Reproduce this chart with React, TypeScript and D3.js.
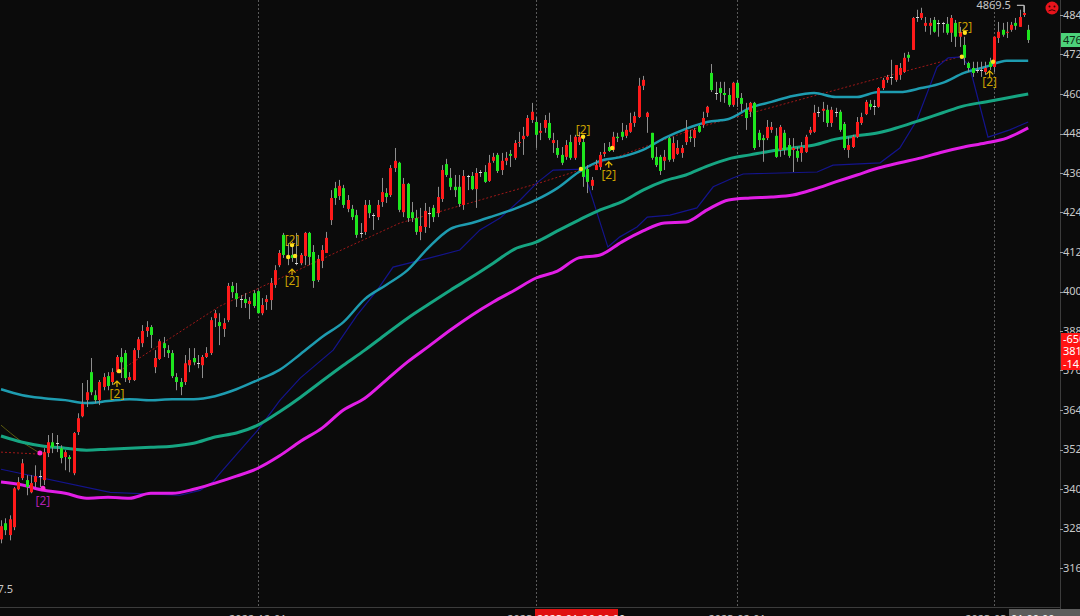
import React from 'react';
import * as d3 from 'd3';

const W = 1080;
const H = 616;
const PLOT_R = 1060;
const PLOT_B = 607;

const opens = [3247,3296,3260,3284,3399,3433,3427,3390,3421,3439,3427,3509,3542,3539,3524,3497,3497,3448,3573,3621,3670,3755,3685,3670,3710,3743,3725,3755,3801,3813,3731,3731,3822,3843,3880,3892,3770,3795,3843,3822,3813,3740,3725,3725,3776,3798,3782,3776,3801,3813,3919,3907,3886,3913,4017,3995,3977,3977,3962,3995,4001,3934,3968,3974,4020,4080,4172,4108,4111,4086,4086,4108,4178,4120,4035,4093,4117,4217,4314,4290,4314,4251,4251,4232,4178,4181,4263,4232,4226,4272,4299,4293,4375,4391,4241,4327,4241,4223,4181,4196,4238,4254,4238,4281,4387,4345,4318,4318,4263,4351,4351,4311,4363,4363,4336,4397,4415,4369,4397,4418,4406,4451,4463,4473,4521,4515,4482,4497,4512,4451,4436,4415,4409,4454,4406,4454,4454,4372,4321,4369,4378,4418,4439,4430,4470,4485,4473,4485,4512,4530,4625,4530,4482,4409,4409,4397,4466,4403,4418,4421,4454,4470,4466,4503,4506,4543,4664,4603,4618,4603,4597,4567,4634,4588,4552,4546,4573,4482,4466,4466,4491,4473,4430,4482,4445,4430,4427,4421,4424,4482,4485,4546,4549,4552,4512,4546,4546,4509,4430,4439,4470,4512,4539,4570,4564,4561,4618,4643,4652,4643,4658,4667,4719,4734,4834,4831,4807,4807,4825,4816,4816,4813,4786,4816,4774,4749,4694,4679,4673,4673,4667,4698,4682,4770,4795,4786,4795,4816,4804,4840,4795];
const highs = [3305,3311,3320,3406,3436,3491,3442,3442,3472,3457,3524,3564,3570,3564,3533,3518,3503,3573,3630,3722,3731,3798,3700,3731,3752,3755,3767,3807,3828,3822,3755,3828,3862,3898,3910,3898,3822,3855,3862,3837,3822,3752,3737,3807,3828,3828,3807,3807,3831,3922,3944,3934,3919,4026,4029,4026,3989,3995,3983,4004,4004,3980,3989,4041,4080,4126,4178,4147,4150,4178,4117,4181,4181,4141,4111,4141,4181,4308,4333,4339,4324,4293,4263,4248,4208,4278,4278,4238,4278,4345,4314,4384,4436,4394,4345,4330,4272,4248,4254,4269,4257,4263,4318,4384,4403,4375,4354,4354,4369,4354,4363,4375,4369,4384,4415,4421,4421,4421,4424,4430,4460,4485,4500,4536,4573,4530,4512,4536,4543,4482,4460,4439,4460,4476,4476,4485,4470,4384,4348,4400,4424,4451,4454,4485,4482,4512,4506,4543,4546,4649,4655,4546,4482,4439,4415,4430,4470,4470,4460,4445,4521,4491,4497,4506,4546,4564,4691,4637,4637,4637,4618,4637,4643,4603,4573,4576,4576,4491,4476,4521,4515,4497,4506,4491,4466,4466,4439,4454,4476,4500,4567,4561,4576,4567,4561,4558,4552,4515,4470,4476,4530,4543,4582,4582,4582,4621,4649,4658,4704,4688,4694,4725,4728,4834,4856,4862,4834,4831,4834,4825,4819,4834,4840,4825,4804,4774,4698,4698,4698,4698,4698,4710,4774,4819,4816,4819,4819,4831,4856,4869.5,4810];
const lows = [3235,3260,3244,3275,3396,3427,3381,3387,3406,3406,3412,3497,3509,3512,3478,3457,3451,3442,3564,3618,3649,3685,3661,3655,3700,3700,3716,3752,3737,3725,3722,3728,3798,3831,3862,3828,3752,3792,3801,3798,3737,3700,3685,3716,3755,3776,3767,3737,3798,3807,3892,3837,3862,3907,3980,3953,3950,3950,3916,3950,3934,3928,3944,3944,4011,4074,4102,4080,4090,4080,4080,4080,4080,4011,4029,4071,4117,4202,4263,4278,4254,4241,4217,4163,4163,4172,4223,4187,4217,4257,4269,4287,4363,4241,4226,4211,4211,4172,4156,4178,4193,4211,4226,4272,4348,4308,4287,4257,4248,4308,4308,4254,4348,4330,4333,4391,4360,4354,4384,4378,4400,4439,4415,4470,4512,4436,4460,4482,4460,4421,4406,4384,4400,4400,4400,4445,4318,4299,4308,4369,4369,4409,4424,4424,4454,4460,4466,4482,4500,4527,4612,4482,4400,4378,4354,4369,4394,4394,4415,4406,4445,4454,4439,4482,4497,4530,4606,4582,4576,4573,4561,4561,4561,4546,4491,4530,4430,4439,4394,4460,4482,4406,4409,4415,4406,4363,4394,4394,4421,4476,4482,4530,4515,4500,4500,4530,4485,4430,4406,4436,4466,4506,4536,4552,4536,4558,4612,4634,4628,4637,4643,4664,4698,4734,4819,4825,4789,4780,4786,4774,4786,4780,4758,4743,4743,4688,4667,4652,4664,4652,4658,4673,4667,4755,4774,4770,4789,4795,4804,4834,4755];
const closes = [3287,3275,3308,3402,3421,3478,3406,3418,3439,3439,3512,3542,3527,3539,3494,3512,3491,3570,3615,3658,3694,3694,3670,3725,3740,3713,3755,3801,3785,3737,3740,3822,3855,3880,3892,3868,3798,3849,3828,3813,3743,3725,3710,3782,3792,3785,3782,3801,3813,3913,3934,3895,3904,4017,3998,3977,3977,3965,3971,3956,3934,3959,3977,4026,4065,4117,4111,4108,4102,4086,4111,4178,4105,4032,4099,4126,4163,4284,4284,4321,4263,4278,4226,4172,4178,4263,4238,4232,4263,4302,4287,4375,4397,4248,4327,4223,4223,4181,4199,4245,4238,4226,4287,4369,4354,4318,4308,4266,4351,4351,4311,4360,4363,4333,4391,4409,4366,4397,4406,4412,4451,4454,4473,4527,4546,4476,4488,4521,4466,4460,4415,4391,4445,4406,4470,4470,4348,4333,4339,4384,4415,4424,4427,4470,4466,4470,4491,4512,4533,4625,4643,4543,4406,4384,4366,4409,4400,4451,4436,4436,4491,4466,4491,4485,4527,4561,4612,4603,4603,4597,4567,4634,4588,4570,4527,4573,4436,4460,4460,4500,4500,4409,4500,4430,4412,4436,4406,4439,4470,4491,4543,4546,4555,4512,4552,4546,4491,4436,4445,4470,4515,4530,4576,4561,4564,4618,4643,4652,4652,4688,4679,4710,4710,4831,4834,4846,4816,4816,4789,4816,4816,4786,4831,4774,4789,4710,4679,4664,4673,4673,4679,4682,4774,4789,4780,4789,4810,4807,4834,4846,4764];

const sampleIdx = [0,5,10,15,20,25,30,35,40,45,50,55,60,65,70,75,80,85,90,95,100,105,110,115,120,125,130,135,140,145,150,155,160,165,170,175,180,185,190,195,200,205,210,215,220,225,230,235,240];
const cyanVals = [3703,3685,3676,3670,3661,3667,3673,3670,3673,3673,3682,3703,3731,3761,3810,3862,3907,3977,4020,4065,4135,4190,4208,4229,4251,4278,4314,4363,4397,4409,4430,4466,4494,4515,4524,4558,4576,4594,4603,4591,4591,4606,4606,4618,4634,4664,4682,4701,4701];
const greenVals = [3561,3542,3530,3524,3518,3521,3524,3527,3530,3539,3558,3570,3594,3634,3679,3728,3776,3822,3871,3919,3962,4004,4044,4086,4129,4150,4184,4217,4248,4272,4308,4336,4354,4381,4403,4415,4427,4436,4445,4463,4473,4482,4500,4521,4543,4564,4576,4588,4600];
const magentaVals = [3421,3412,3396,3387,3372,3375,3372,3387,3387,3399,3418,3439,3463,3500,3545,3585,3640,3676,3731,3786,3834,3883,3928,3968,4004,4041,4062,4102,4111,4150,4184,4208,4211,4248,4278,4284,4287,4293,4311,4333,4354,4375,4391,4406,4424,4439,4451,4466,4497];

const blueIdx = [0,25.5,41.8,46.5,49.5,51.2,60,65.2,69.9,77.6,83.2,87.9,91.6,100.2,107.2,111.9,116.6,121.3,125.2,129,136,141.8,144.6,148.6,151,156.3,162.6,166.4,171,173.4,190.7,194.4,205.4,210,214,218.7,221.3,224.5,226.4,230.6,235.7,240];
const blueVals = [3460,3390,3381,3396,3421,3448,3579,3670,3737,3822,3928,4004,4074,4102,4126,4187,4223,4278,4330,4369,4372,4135,4166,4196,4226,4232,4254,4318,4345,4357,4363,4384,4391,4436,4521,4682,4710,4713,4679,4469,4491,4515];

const trendIdx = [27.6,51.2,93.2,125.9,136,163.3,205.4,224];
const trendVals = [3758,3956,4208,4330,4372,4500,4649,4713];
const flatTrendIdx = [0,9.1];
const flatTrendVals = [3512,3506];
const oliveIdx = [0,4.4,9.1];
const oliveVals = [3594,3548,3509];

const priceTicks = [4840,4720,4600,4480,4360,4240,4120,4000,3880,3760,3640,3520,3400,3280,3160];
const dateIdx = [60,125,172,232];
const dateLabels = ['2022-12-01','2023-01-03','2023-02-01','2023-03-01'];

const labelIdx = [27.1,68,68,136,142,225.2,231];
const labelVals = [3685,4153,4029,4488,4351,4801,4634];
const yellowDotIdx = [27.6,68,67.1,68.7,136,135.5,142.8,225.2,224.5,231.8];
const yellowDotVals = [3758,4141,4105,4108,4470,4372,4436,4786,4713,4698];
const arrowIdx = [27.1,68,142,231];
const arrowVals = [3725,4065,4391,4667];
const magentaLabelIdx = [9.8];
const magentaLabelVals = [3360];
const magentaDotIdx = [9.1,9.8];
const magentaDotVals = [3509,3402];

const xs = d3.scaleLinear().domain([0, 240]).range([1, 1028.2]);
const ys = d3.scaleLinear().domain([3160, 4840]).range([568, 15]);

const FONT = '"Noto Sans", "DejaVu Sans", sans-serif';

function pathFrom(idx: number[], vals: number[], curve: any) {
  const gen = d3.line<number>().x((_, k) => xs(idx[k])).y((d) => ys(d)).curve(curve);
  return gen(vals) || '';
}

export default function App() {
  const cyanPath = pathFrom(sampleIdx, cyanVals, d3.curveMonotoneX);
  const greenPath = pathFrom(sampleIdx, greenVals, d3.curveMonotoneX);
  const magentaPath = pathFrom(sampleIdx, magentaVals, d3.curveMonotoneX);
  const bluePath = pathFrom(blueIdx, blueVals, d3.curveLinear);
  const trendPath = pathFrom(trendIdx, trendVals, d3.curveLinear);
  const flatPath = pathFrom(flatTrendIdx, flatTrendVals, d3.curveLinear);
  const olivePath = pathFrom(oliveIdx, oliveVals, d3.curveMonotoneX);

  const hiIdx = highs.indexOf(d3.max(highs) as number);
  const hiX = xs(hiIdx);
  const hiY = ys(highs[hiIdx]);
  const lastClose = closes[closes.length - 1];

  return (
    <div style={{ position: 'fixed', left: 0, top: 0, width: W, height: H, overflow: 'hidden' }}>
      <svg width={W} height={H} style={{ display: 'block', background: '#0b0b0b' }} fontFamily={FONT}>
        <defs>
          <clipPath id="plot">
            <rect x={0} y={0} width={PLOT_R} height={PLOT_B} />
          </clipPath>
        </defs>
        <rect x={0} y={0} width={W} height={H} fill="#0b0b0b" />

        {dateIdx.map((d, k) => (
          <line key={'g' + k} x1={Math.round(xs(d)) + 0.5} x2={Math.round(xs(d)) + 0.5} y1={0} y2={PLOT_B}
            stroke="#5a5a5a" strokeWidth={1} strokeDasharray="2,2" />
        ))}

        <g clipPath="url(#plot)">
          <path d={olivePath} fill="none" stroke="#5a5a10" strokeWidth={1} />
          <path d={flatPath} fill="none" stroke="#a01818" strokeWidth={1} strokeDasharray="2,2" />
          <path d={trendPath} fill="none" stroke="#a01818" strokeWidth={1} strokeDasharray="2,2" />
          <path d={bluePath} fill="none" stroke="#14148c" strokeWidth={1.2} />
          <path d={magentaPath} fill="none" stroke="#e21ee6" strokeWidth={3} />
          <path d={greenPath} fill="none" stroke="#16a582" strokeWidth={3} />
          <path d={cyanPath} fill="none" stroke="#1e9cb0" strokeWidth={2.5} />

          {opens.map((o, i) => {
            const c = closes[i];
            const cx = Math.round(xs(i));
            const top = ys(Math.max(o, c));
            const bot = ys(Math.min(o, c));
            const up = c > o;
            const flat = c === o;
            const fill = flat ? '#d8d8d8' : up ? '#ff1a1a' : '#1ee61e';
            return (
              <g key={'c' + i}>
                <line x1={cx + 0.5} x2={cx + 0.5} y1={ys(highs[i])} y2={ys(lows[i])} stroke="#8e8e8e" strokeWidth={1} />
                <rect x={cx - 1} y={flat ? Math.round(top) : top} width={3} height={flat ? 1 : Math.max(1, bot - top)} fill={fill} />
              </g>
            );
          })}

          {magentaDotIdx.map((d, k) => (
            <circle key={'md' + k} cx={xs(d)} cy={ys(magentaDotVals[k])} r={2.5} fill="#ff2ad8" />
          ))}
          {magentaLabelIdx.map((d, k) => (
            <text key={'ml' + k} x={xs(d)} y={ys(magentaLabelVals[k])} fill="#b020b0" fontSize={12}
              textAnchor="middle" dominantBaseline="middle">[2]</text>
          ))}
          {yellowDotIdx.map((d, k) => (
            <circle key={'yd' + k} cx={xs(d)} cy={ys(yellowDotVals[k])} r={2.2} fill="#ffe020" />
          ))}
          {arrowIdx.map((d, k) => {
            const ax = xs(d);
            const ay = ys(arrowVals[k]);
            return (
              <path key={'ar' + k} d={`M${ax - 3.5},${ay + 2.5} L${ax},${ay - 1} L${ax + 3.5},${ay + 2.5} M${ax},${ay - 1} L${ax},${ay + 5}`}
                fill="none" stroke="#e6b800" strokeWidth={1.2} />
            );
          })}
          {labelIdx.map((d, k) => (
            <text key={'yl' + k} x={xs(d)} y={ys(labelVals[k])} fill="#c9a000" fontSize={12}
              textAnchor="middle" dominantBaseline="middle">[2]</text>
          ))}
        </g>

        {/* high marker */}
        <path d={`M${hiX - 7},${hiY} H${hiX} V${hiY + 7}`} fill="none" stroke="#dcdcdc" strokeWidth={1} />
        <text x={hiX - 13} y={hiY + 4} fill="#c8c8c8" fontSize={11} textAnchor="end">{highs[hiIdx].toFixed(1)}</text>

        <text x={13} y={ys(3097.5) + 4} fill="#c8c8c8" fontSize={11} textAnchor="end">3097.5</text>

        {/* axes */}
        <line x1={PLOT_R + 0.5} x2={PLOT_R + 0.5} y1={0} y2={H} stroke="#3c3c3c" />
        <line x1={0} x2={PLOT_R} y1={PLOT_B + 0.5} y2={PLOT_B + 0.5} stroke="#3c3c3c" />

        {priceTicks.map((t) => (
          <g key={'t' + t}>
            <line x1={PLOT_R} x2={PLOT_R + 3} y1={Math.round(ys(t)) + 0.5} y2={Math.round(ys(t)) + 0.5} stroke="#9a9a9a" />
            <text x={PLOT_R + 3} y={ys(t)} dy="0.35em" fill="#c8c8c8" fontSize={11}>{t}</text>
          </g>
        ))}

        {/* last price label */}
        <rect x={PLOT_R + 1} y={ys(lastClose) - 7} width={20} height={14} fill="#4cd27a" />
        <text x={PLOT_R + 3} y={ys(lastClose)} dy="0.35em" fill="#0c2a14" fontSize={11}>{lastClose}</text>

        {/* crosshair info box */}
        <rect x={PLOT_R + 1} y={333} width={20} height={37} fill="#ff1414" />
        <text x={PLOT_R + 3} y={339} dy="0.35em" fill="#ffffff" fontSize={11}>-650.0</text>
        <text x={PLOT_R + 3} y={351.5} dy="0.35em" fill="#ffffff" fontSize={11}>3811.6</text>
        <text x={PLOT_R + 3} y={364} dy="0.35em" fill="#ffffff" fontSize={11}>-14.57%</text>

        {/* date labels */}
        {dateIdx.map((d, k) => (
          <text key={'dl' + k} x={xs(d)} y={623} fill="#c8c8c8" fontSize={11} textAnchor="middle">{dateLabels[k]}</text>
        ))}
        <rect x={535} y={609} width={83} height={10} fill="#e01010" />
        <text x={537} y={623} fill="#ffffff" fontSize={11}>2023-01-06 00:00</text>
        <rect x={1009} y={609} width={71} height={10} fill="#5c5c5c" />
        <text x={1011} y={623} fill="#ffffff" fontSize={11}>01 00:00</text>

        {/* status icon */}
        <circle cx={1052} cy={8} r={6.5} fill="#e8141c" />
        <circle cx={1049.5} cy={6.5} r={1} fill="#3a0000" />
        <circle cx={1054.5} cy={6.5} r={1} fill="#3a0000" />
        <path d="M1048.5,11 Q1052,8.5 1055.5,11" fill="none" stroke="#3a0000" strokeWidth={1} />
      </svg>
    </div>
  );
}
